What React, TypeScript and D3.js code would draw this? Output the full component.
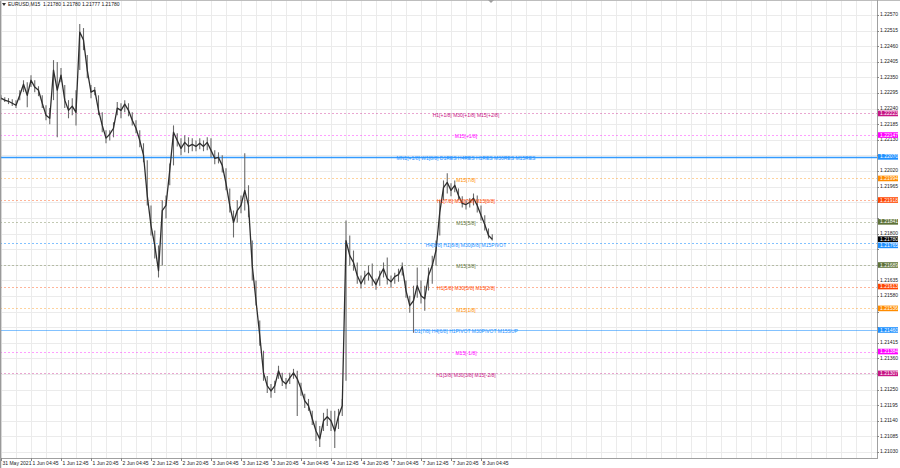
import React from 'react';
import * as d3 from 'd3';

const symbolName = 'EURUSD,M15';
const lastBarOHLC = [1.2178, 1.2178, 1.21777, 1.2178];
const bidPrice = 1.2178;

const hourHigh = [
  1.22287, 1.22280, 1.22277, 1.22273, 1.22270, 1.22305, 1.22340, 1.22333, 1.22358, 1.22340,
  1.22319, 1.22287, 1.22252, 1.22242, 1.22411, 1.22404, 1.22383, 1.22323, 1.22270, 1.22277,
  1.22305, 1.22538, 1.22524, 1.22429, 1.22323, 1.22316, 1.22287, 1.22227, 1.22164, 1.22164,
  1.22192, 1.22263, 1.22259, 1.22270, 1.22259, 1.22227, 1.22199, 1.22164, 1.22118, 1.22058,
  1.21899, 1.21811, 1.21758, 1.21917, 1.21934, 1.22047, 1.22181, 1.22153, 1.22136, 1.22146,
  1.22139, 1.22136, 1.22128, 1.22136, 1.22128, 1.22139, 1.22136, 1.22093, 1.22086, 1.22076,
  1.22030, 1.21959, 1.21881, 1.21917, 1.21934, 1.22083, 1.21970, 1.21775, 1.21634, 1.21493,
  1.21387, 1.21298, 1.21270, 1.21281, 1.21334, 1.21309, 1.21291, 1.21309, 1.21323, 1.21316,
  1.21274, 1.21235, 1.21217, 1.21175, 1.21140, 1.21122, 1.21168, 1.21182, 1.21175, 1.21175,
  1.21182, 1.21217, 1.21846, 1.21793, 1.21740, 1.21698, 1.21652, 1.21669, 1.21687, 1.21694,
  1.21641, 1.21669, 1.21698, 1.21715, 1.21652, 1.21662, 1.21676, 1.21698, 1.21634, 1.21581,
  1.21616, 1.21680, 1.21634, 1.21616, 1.21680, 1.21722, 1.21775, 1.21917, 1.21987, 1.22012,
  1.21977, 1.21987, 1.21959, 1.21931, 1.21917, 1.21924, 1.21941, 1.21934, 1.21899, 1.21864,
  1.21818, 1.21797,
];

const hourLow = [
  1.22270, 1.22263, 1.22256, 1.22249, 1.22242, 1.22270, 1.22298, 1.22245, 1.22316, 1.22298,
  1.22284, 1.22242, 1.22199, 1.22185, 1.22270, 1.22139, 1.22333, 1.22242, 1.22206, 1.22217,
  1.22181, 1.22376, 1.22446, 1.22347, 1.22277, 1.22287, 1.22217, 1.22157, 1.22118, 1.22128,
  1.22139, 1.22217, 1.22206, 1.22227, 1.22213, 1.22181, 1.22153, 1.22104, 1.22051, 1.21899,
  1.21793, 1.21712, 1.21645, 1.21687, 1.21853, 1.21970, 1.22040, 1.22107, 1.22076, 1.22086,
  1.22083, 1.22090, 1.22090, 1.22097, 1.22090, 1.22093, 1.22068, 1.22044, 1.22047, 1.22015,
  1.21952, 1.21874, 1.21786, 1.21839, 1.21871, 1.21881, 1.21857, 1.21634, 1.21546, 1.21404,
  1.21281, 1.21238, 1.21221, 1.21238, 1.21288, 1.21263, 1.21253, 1.21270, 1.21288, 1.21157,
  1.21228, 1.21185, 1.21175, 1.21125, 1.21069, 1.21048, 1.21104, 1.21122, 1.21104, 1.21044,
  1.21111, 1.21157, 1.21281, 1.21687, 1.21669, 1.21623, 1.21606, 1.21620, 1.21634, 1.21616,
  1.21602, 1.21616, 1.21645, 1.21620, 1.21609, 1.21623, 1.21630, 1.21652, 1.21574, 1.21521,
  1.21450, 1.21574, 1.21553, 1.21528, 1.21599, 1.21623, 1.21687, 1.21793, 1.21917, 1.21941,
  1.21931, 1.21945, 1.21917, 1.21892, 1.21885, 1.21892, 1.21899, 1.21874, 1.21846, 1.21811,
  1.21782, 1.21775,
];

const hourClose = [
  1.22277, 1.22270, 1.22266, 1.22259, 1.22252, 1.22287, 1.22326, 1.22287, 1.22340, 1.22316,
  1.22305, 1.22259, 1.22217, 1.22206, 1.22376, 1.22305, 1.22358, 1.22270, 1.22234, 1.22249,
  1.22227, 1.22510, 1.22482, 1.22376, 1.22298, 1.22305, 1.22234, 1.22181, 1.22136, 1.22150,
  1.22171, 1.22242, 1.22234, 1.22256, 1.22234, 1.22199, 1.22171, 1.22128, 1.22076, 1.21934,
  1.21828, 1.21758, 1.21669, 1.21881, 1.21899, 1.22023, 1.22157, 1.22128, 1.22100, 1.22121,
  1.22107, 1.22114, 1.22107, 1.22118, 1.22107, 1.22121, 1.22093, 1.22065, 1.22068, 1.22040,
  1.21977, 1.21899, 1.21839, 1.21881, 1.21899, 1.21952, 1.21899, 1.21687, 1.21563, 1.21440,
  1.21309, 1.21263, 1.21245, 1.21263, 1.21316, 1.21281, 1.21270, 1.21291, 1.21309, 1.21288,
  1.21253, 1.21210, 1.21193, 1.21147, 1.21104, 1.21076, 1.21140, 1.21154, 1.21140, 1.21104,
  1.21157, 1.21193, 1.21775, 1.21722, 1.21698, 1.21652, 1.21623, 1.21648, 1.21662, 1.21641,
  1.21620, 1.21652, 1.21676, 1.21641, 1.21630, 1.21648, 1.21655, 1.21683, 1.21599, 1.21546,
  1.21563, 1.21616, 1.21581, 1.21570, 1.21652, 1.21687, 1.21740, 1.21874, 1.21962, 1.21980,
  1.21952, 1.21970, 1.21934, 1.21906, 1.21902, 1.21910, 1.21924, 1.21899, 1.21864, 1.21832,
  1.21793, 1.21780,
];

const timeLabels = [
  '31 May 2021', '1 Jun 04:45', '1 Jun 12:45', '1 Jun 20:45', '2 Jun 04:45', '2 Jun 12:45',
  '2 Jun 20:45', '3 Jun 04:45', '3 Jun 12:45', '3 Jun 20:45', '4 Jun 04:45', '4 Jun 12:45',
  '4 Jun 20:45', '7 Jun 04:45', '7 Jun 12:45', '7 Jun 20:45', '8 Jun 04:45',
];

const priceTicks = [
  1.2257, 1.22515, 1.2246, 1.22405, 1.2235, 1.22295, 1.2224, 1.22185, 1.2213, 1.22075,
  1.2202, 1.21965, 1.2191, 1.21855, 1.218, 1.21745, 1.2169, 1.21635, 1.2158, 1.21525,
  1.2147, 1.21415, 1.2136, 1.21305, 1.2125, 1.21195, 1.2114, 1.21085, 1.2103,
];

const levelPrices = [
  1.22223, 1.22147, 1.2207, 1.21994, 1.21918, 1.21841, 1.21765,
  1.21689, 1.21613, 1.21536, 1.2146, 1.21384, 1.21307,
];
const levelTexts = [
  'H1[+1/8] M30[+1/8] M15[+2/8]',
  'M15[+1/8]',
  'MN1[+1/8] W1[8/8] D1RES H4RES H1RES M30RES M15RES',
  'M15[7/8]',
  'H1[7/8] M30[7/8] M15[6/8]',
  'M15[5/8]',
  'H4[8/8] H1[8/8] M30[8/8] M15PIVOT',
  'M15[3/8]',
  'H1[5/8] M30[5/8] M15[2/8]',
  'M15[1/8]',
  'D1[7/8] H4[6/8] H1PIVOT M30PIVOT M15SUP',
  'M15[-1/8]',
  'H1[3/8] M30[3/8] M15[-2/8]',
];
const levelKinds = ['mvr', 'mag', 'res', 'orange', 'red', 'olive', 'pivot', 'olive', 'red', 'orange', 'sup', 'mag', 'mvr'];

// ---- styles ----
const kindStyle: Record<string, { color: string; dash: string | null; width: number; opacity: number }> = {
  mvr: { color: '#C71585', dash: '2,2', width: 1, opacity: 0.38 },
  mag: { color: '#FF00FF', dash: '2,2', width: 1, opacity: 0.38 },
  res: { color: '#1E90FF', dash: null, width: 1.4, opacity: 0.9 },
  orange: { color: '#FF8C00', dash: '2,2', width: 1, opacity: 0.38 },
  red: { color: '#FF4500', dash: '2,2', width: 1, opacity: 0.4 },
  olive: { color: '#5E7238', dash: '2,2', width: 1, opacity: 0.38 },
  pivot: { color: '#1E90FF', dash: '2,2', width: 1, opacity: 0.55 },
  sup: { color: '#1E90FF', dash: null, width: 1, opacity: 0.55 },
};

const W = 900;
const H = 468;
const plotRight = 877;
const plotBottom = 458;
const BOX_H = 5.6;
const FONT = "'Liberation Sans', Arial, sans-serif";

export default function App() {
  const x = d3.scaleLinear().domain([0, 8]).range([1, 31]);
  const y = d3.scaleLinear().domain([1.2103, 1.2257]).range([452, 15]);

  const idx = d3.range(hourClose.length);
  const closeLine = d3
    .line<number>()
    .x((i) => x(i))
    .y((i) => y(hourClose[i]));

  const gridXs: number[] = [];
  for (let k = 0; x(k * 4) < plotRight; k++) gridXs.push(x(k * 4));

  const headerText = `${symbolName}  ${lastBarOHLC.map((v) => v.toFixed(5)).join(' ')}`;

  // right-axis marker boxes (level prices + bid), pushed apart so they don't overlap
  const boxes = levelPrices
    .map((p, i) => ({ p, color: kindStyle[levelKinds[i]].color, yy: y(p) }))
    .concat([{ p: bidPrice, color: '#000', yy: y(bidPrice) }])
    .sort((a, b) => a.yy - b.yy);
  for (let i = 1; i < boxes.length; i++) {
    if (boxes[i].yy - boxes[i - 1].yy < BOX_H + 0.6) boxes[i].yy = boxes[i - 1].yy + BOX_H + 0.6;
  }
  const visibleTicks = priceTicks.filter((p) => boxes.every((b) => Math.abs(y(p) - b.yy) > 4.2));

  return (
    <svg
      width={W}
      height={H}
      style={{ position: 'absolute', left: 0, top: 0, background: '#fff' }}
      fontFamily={FONT}
    >
      <rect x={0} y={0} width={W} height={H} fill="#fff" />
      {/* grid */}
      <g stroke="#EBEBEB" strokeWidth={1}>
        {gridXs.map((gx, i) => (
          <line key={'gx' + i} x1={Math.round(gx) + 0.5} x2={Math.round(gx) + 0.5} y1={0} y2={plotBottom} />
        ))}
        {priceTicks.map((p, i) => (
          <line key={'gy' + i} x1={0} x2={plotRight} y1={Math.round(y(p)) + 0.5} y2={Math.round(y(p)) + 0.5} />
        ))}
      </g>

      {/* level lines */}
      {levelPrices.map((p, i) => {
        const st = kindStyle[levelKinds[i]];
        const yy = Math.round(y(p)) + 0.5;
        return (
          <line
            key={'lv' + i}
            x1={0}
            x2={plotRight}
            y1={yy}
            y2={yy}
            stroke={st.color}
            strokeWidth={st.width}
            strokeOpacity={st.opacity}
            strokeDasharray={st.dash ?? undefined}
          />
        );
      })}

      {/* price bars */}
      {idx.map((i) => (
        <line
          key={'b' + i}
          x1={x(i)}
          x2={x(i)}
          y1={y(hourHigh[i])}
          y2={y(hourLow[i])}
          stroke="#6a6a6a"
          strokeWidth={1.1}
        />
      ))}
      <path d={closeLine(idx) ?? ''} fill="none" stroke="#2e2e2e" strokeWidth={1.3} strokeLinejoin="round" />

      {/* level texts */}
      {levelPrices.map((p, i) => {
        const st = kindStyle[levelKinds[i]];
        return (
          <text
            key={'lt' + i}
            x={466}
            y={y(p) + 2}
            fontSize={5}
            fill={st.color}
            textAnchor="middle"
            dominantBaseline="middle"
          >
            {levelTexts[i]}
          </text>
        );
      })}

      {/* frame */}
      <line x1={0.5} x2={0.5} y1={0} y2={H} stroke="#9A9A9A" strokeWidth={1.5} />
      <line x1={0} x2={W} y1={0.5} y2={0.5} stroke="#BDBDBD" />
      <line x1={plotRight + 0.5} x2={plotRight + 0.5} y1={0} y2={plotBottom} stroke="#A0A0A0" />
      <line x1={0} x2={plotRight + 1} y1={plotBottom + 0.5} y2={plotBottom + 0.5} stroke="#A0A0A0" />
      <path d="M488,0 L494,0 L491,3 Z" fill="#A0A0A0" />

      {/* price axis */}
      {priceTicks.map((p, i) => (
        <line key={'ptk' + i} x1={plotRight} x2={plotRight + 2} y1={Math.round(y(p)) + 0.5} y2={Math.round(y(p)) + 0.5} stroke="#888" />
      ))}
      {visibleTicks.map((p, i) => (
        <text key={'pt' + i} x={880} y={y(p)} fontSize={5} fill="#222" dominantBaseline="middle">
          {p.toFixed(5)}
        </text>
      ))}
      {boxes.map((b, i) => (
        <g key={'pl' + i}>
          <rect x={878} y={b.yy - BOX_H / 2} width={20} height={BOX_H} fill={b.color} />
          <text x={880} y={b.yy + 0.2} fontSize={5} fill="#fff" dominantBaseline="middle">
            {b.p.toFixed(5)}
          </text>
        </g>
      ))}

      {/* time axis */}
      {timeLabels.map((t, i) => {
        const tx = x(i * 8);
        return (
          <g key={'tl' + i}>
            <line x1={Math.round(tx) + 0.5} x2={Math.round(tx) + 0.5} y1={plotBottom} y2={plotBottom + 3} stroke="#888" />
            <text x={tx + 1.5} y={464} fontSize={5} fill="#222" dominantBaseline="middle">
              {t}
            </text>
          </g>
        );
      })}

      {/* header */}
      <path d="M2,3 L6,3 L4,6 Z" fill="#333" />
      <text x={8} y={5} fontSize={5} fill="#111" dominantBaseline="middle" xmlSpace="preserve">
        {headerText}
      </text>
    </svg>
  );
}
